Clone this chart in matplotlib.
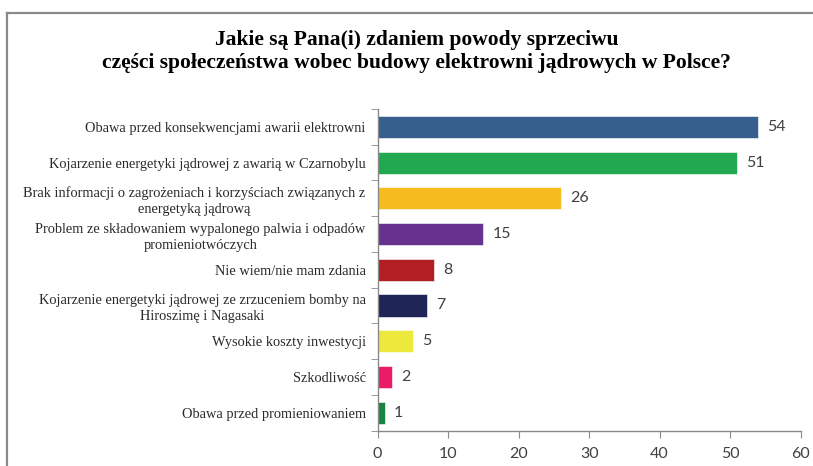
import matplotlib.pyplot as plt
import numpy as np
from matplotlib.lines import Line2D

title_lines = ["Jakie są Pana(i) zdaniem powody sprzeciwu",
               "części społeczeństwa wobec budowy elektrowni jądrowych w Polsce?"]

reasons = [
    "Obawa przed konsekwencjami awarii elektrowni",
    "Kojarzenie energetyki jądrowej z awarią w Czarnobylu",
    "Brak informacji o zagrożeniach i korzyściach związanych z\nenergetyką jądrową",
    "Problem ze składowaniem wypalonego palwia i odpadów\npromieniotwóczych",
    "Nie wiem/nie mam zdania",
    "Kojarzenie energetyki jądrowej ze zrzuceniem bomby na\nHiroszimę i Nagasaki",
    "Wysokie koszty inwestycji",
    "Szkodliwość",
    "Obawa przed promieniowaniem",
]
percent = [54, 51, 26, 15, 8, 7, 5, 2, 1]
colors = ["#365f8d", "#23a852", "#f5bb1f", "#67328f", "#b11f25",
          "#1f2657", "#ede83c", "#ea1c68", "#188443"]
ticks = [0, 10, 20, 30, 40, 50, 60]

fig = plt.figure(figsize=(8.13, 4.66), dpi=100)

# frame around the chart area
fig.add_artist(Line2D([7/813, 7/813], [0, 1 - 13/466], transform=fig.transFigure,
                      color="#8a8a8a", lw=1.6))
fig.add_artist(Line2D([7/813, 1], [1 - 13/466, 1 - 13/466], transform=fig.transFigure,
                      color="#8a8a8a", lw=1.6))

# two title lines, each on its own baseline
for line, base in zip(title_lines, [45, 68]):
    fig.text(0.512, 1 - base/466, line, ha="center", va="baseline",
             family="Liberation Serif", weight="bold", fontsize=15.5)

ax = fig.add_axes([377.5/813, 1 - 430.5/466, 423.2/813, 321.5/466])

y = np.arange(len(reasons))
ax.barh(y, percent, height=0.62, color=colors, edgecolor="white", linewidth=0.4)

for yi, v in zip(y, percent):
    ax.text(v + 1.3, yi, str(v), va="center", ha="left",
            family="Lato", fontsize=11.5, color="#404040")

ax.set_ylim(len(reasons) - 0.5, -0.5)
ax.set_xlim(0, 60)
ax.set_xticks(ticks)
ax.set_xticklabels([str(t) for t in ticks], family="Lato", fontsize=11.5, color="#404040")

ax.set_yticks(y)
ax.set_yticklabels(reasons, family="Liberation Serif", fontsize=10.4, color="#2a2a2a",
                   multialignment="center", linespacing=1.3)
ax.set_yticks(np.arange(len(reasons) + 1) - 0.5, minor=True)
ax.tick_params(axis="y", which="major", length=0, pad=8.5)
ax.tick_params(axis="y", which="minor", length=5, color="#8a8a8a")
ax.tick_params(axis="x", length=5, color="#8a8a8a", pad=7)

for side in ["top", "right"]:
    ax.spines[side].set_visible(False)
for side in ["left", "bottom"]:
    ax.spines[side].set_color("#8a8a8a")
    ax.spines[side].set_linewidth(1.0)

fig.savefig("out.png", dpi=100)
